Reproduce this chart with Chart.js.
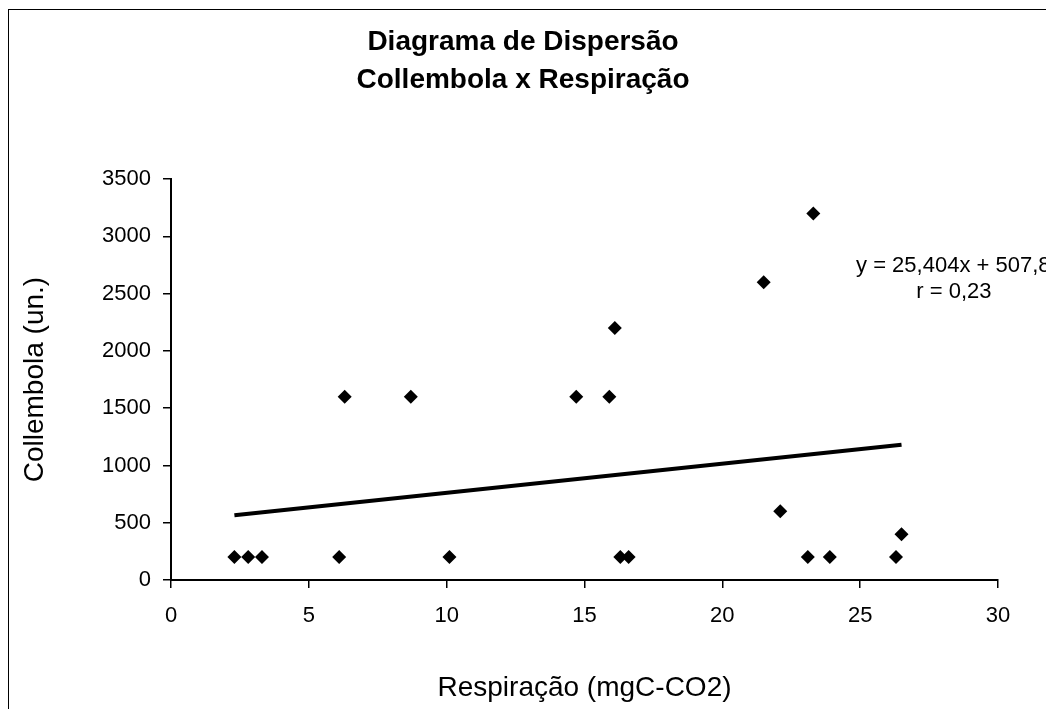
<!DOCTYPE html>
<html>
<head>
<meta charset="utf-8">
<script src="https://cdn.jsdelivr.net/npm/chart.js@4"></script>
<style>
  html, body { margin: 0; padding: 0; background: #fff; overflow: hidden; }
  #wrap { position: relative; width: 1046px; height: 709px; }
  #frame { position: absolute; left: 8px; top: 9px; width: 1100px; height: 800px;
           border: 1.5px solid #000; pointer-events: none; }
</style>
</head>
<body>
<div id="wrap">
  <canvas id="chart" width="1046" height="709"></canvas>
  <div id="frame"></div>
</div>
<script>
// Respiração (x) vs Collembola (y)
const respiracao = [2.3, 2.8, 3.3, 6.1, 6.3, 8.7, 10.1, 14.7, 15.9, 16.1, 16.3, 16.6, 21.5, 22.1, 23.1, 23.3, 23.9, 26.3, 26.5];
const collembola = [200, 200, 200, 200, 1600, 1600, 200, 1600, 1600, 2200, 200, 200, 2600, 600, 200, 3200, 200, 200, 400];
const slope = 25.404;
const intercept = 507.8;
const equationLines = ['y = 25,404x + 507,8', 'r = 0,23'];

const points = respiracao.map((x, i) => ({ x: x, y: collembola[i] }));
const xMin = Math.min(...respiracao);
const xMax = Math.max(...respiracao);
const trend = [
    { x: xMin, y: slope * xMin + intercept },
    { x: xMax, y: slope * xMax + intercept },
];

const FONT = '"Liberation Sans", Arial, sans-serif';

// Equation label next to the trendline (runs off the right edge like the original)
const equationLabel = {
    id: 'equationLabel',
    afterDatasetsDraw(chart) {
        const { ctx, scales } = chart;
        ctx.save();
        ctx.fillStyle = '#000';
        ctx.font = '22px ' + FONT;
        ctx.textBaseline = 'middle';
        ctx.textAlign = 'left';
        ctx.fillText(equationLines[0], scales.x.getPixelForValue(24.85), scales.y.getPixelForValue(2740));
        ctx.textAlign = 'center';
        ctx.fillText(equationLines[1], scales.x.getPixelForValue(28.4), scales.y.getPixelForValue(2513));
        ctx.restore();
    }
};

new Chart(document.getElementById('chart').getContext('2d'), {
    type: 'scatter',
    data: {
        datasets: [
            {
                label: 'Collembola',
                data: points,
                pointStyle: 'rectRot',
                pointRadius: 7,
                pointBackgroundColor: '#000',
                pointBorderColor: '#000',
                pointBorderWidth: 0,
            },
            {
                label: 'Tendência',
                type: 'line',
                data: trend,
                borderColor: '#000',
                borderWidth: 4,
                pointRadius: 0,
                fill: false,
            },
        ],
    },
    options: {
        responsive: false,
        animation: false,
        layout: { padding: 0 },
        plugins: {
            legend: { display: false },
            tooltip: { enabled: false },
            title: {
                display: true,
                text: ['Diagrama de Dispersão', 'Collembola x Respiração'],
                color: '#000',
                font: { family: FONT, size: 28, weight: 'bold', lineHeight: 1.36 },
                padding: { top: 23, bottom: 80 },
            },
        },
        scales: {
            x: {
                type: 'linear',
                min: 0,
                max: 30,
                ticks: { stepSize: 5, color: '#000', font: { family: FONT, size: 22 }, padding: 15, maxRotation: 0 },
                grid: { drawOnChartArea: false, drawTicks: true, tickLength: 8, color: '#000', lineWidth: 1.5 },
                border: { color: '#000', width: 2 },
                title: {
                    display: true,
                    text: 'Respiração (mgC-CO2)',
                    color: '#000',
                    font: { family: FONT, size: 28 },
                    padding: { top: 0, bottom: 4 },
                },
                afterFit(scale) { scale.height = 129; },
            },
            y: {
                min: 0,
                max: 3500,
                ticks: { stepSize: 500, color: '#000', font: { family: FONT, size: 22 }, padding: 12,
                         callback: (v) => String(v) },
                grid: { drawOnChartArea: false, drawTicks: true, tickLength: 8, color: '#000', lineWidth: 1.5 },
                border: { color: '#000', width: 2 },
                title: {
                    display: true,
                    text: 'Collembola (un.)',
                    color: '#000',
                    font: { family: FONT, size: 28 },
                    padding: { top: 18, bottom: 0 },
                },
                afterFit(scale) { scale.width = 171; },
            },
            // empty right-hand axis that only reserves the right margin
            yRight: {
                position: 'right',
                display: true,
                ticks: { display: false },
                grid: { display: false, drawTicks: false },
                border: { display: false },
                afterFit(scale) { scale.width = 48; },
            },
        },
    },
    plugins: [equationLabel],
});
</script>
</body>
</html>
